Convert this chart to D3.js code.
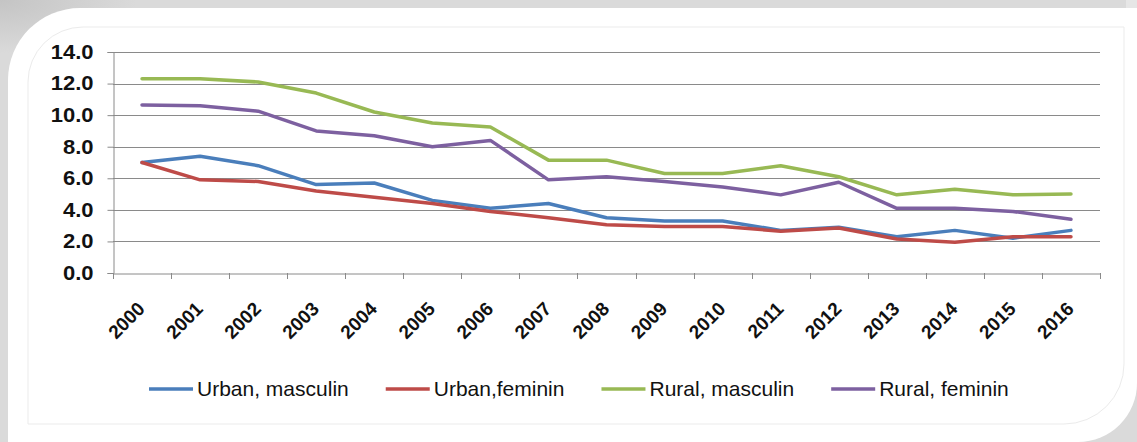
<!DOCTYPE html>
<html>
<head>
<meta charset="utf-8">
<script src="https://cdn.jsdelivr.net/npm/d3@7"></script>
<style>
  html, body { margin: 0; padding: 0; background: #d9d9d9; }
  svg { display: block; }
</style>
</head>
<body>
<script>
const years = ["2000","2001","2002","2003","2004","2005","2006","2007","2008","2009","2010","2011","2012","2013","2014","2015","2016"];
const urbanMasculin = [7.0,7.4,6.8,5.6,5.7,4.6,4.1,4.4,3.5,3.3,3.3,2.7,2.9,2.3,2.7,2.2,2.7];
const urbanFeminin  = [7.0,5.9,5.8,5.2,4.8,4.4,3.9,3.5,3.05,2.95,2.95,2.65,2.85,2.15,1.95,2.3,2.3];
const ruralMasculin = [12.3,12.3,12.1,11.4,10.2,9.5,9.25,7.15,7.15,6.3,6.3,6.8,6.1,4.95,5.3,4.95,5.0];
const ruralFeminin  = [10.65,10.6,10.25,9.0,8.7,8.0,8.4,5.9,6.1,5.8,5.45,4.95,5.75,4.1,4.1,3.9,3.4];
const seriesNames = ["Urban, masculin","Urban,feminin","Rural, masculin","Rural, feminin"];
const seriesColors = ["#4a7ebb","#be4b48","#98b954","#7d60a0"];
const yTicks = [0,2,4,6,8,10,12,14];

const W = 1137, H = 442;
const series = [urbanMasculin, urbanFeminin, ruralMasculin, ruralFeminin].map((v, i) => ({
  name: seriesNames[i], color: seriesColors[i], values: v
}));

const svg = d3.select("body").append("svg").attr("width", W).attr("height", H);

// background frame
const defs = svg.append("defs");
const rg = defs.append("radialGradient").attr("id", "bgGrad")
  .attr("cx", 0).attr("cy", 0).attr("r", 0.12).attr("gradientUnits", "objectBoundingBox");
rg.append("stop").attr("offset", "0%").attr("stop-color", "#c4c4c4");
rg.append("stop").attr("offset", "100%").attr("stop-color", "#dadada");
svg.append("rect").attr("width", W).attr("height", H).attr("fill", "url(#bgGrad)");
svg.append("rect").attr("x", 1126).attr("y", 0).attr("width", 11).attr("height", 8).attr("fill", "#e6e6e6");

// white panel
svg.append("path")
  .attr("d", "M8,80 A72,72 0 0 1 80,8 L1137,8 L1137,383 A59,59 0 0 1 1078,442 L8,442 Z")
  .attr("fill", "#ffffff");
// chart area border
svg.append("path")
  .attr("d", "M28,82 A55,55 0 0 1 83,27 L1124,27 L1124,364 A60,60 0 0 1 1064,424 L28,424 Z")
  .attr("fill", "none").attr("stroke", "#ebebeb").attr("stroke-width", 1);

// scales
const x = d3.scaleBand().domain(years).range([113, 1100]).paddingInner(0).paddingOuter(0);
const y = d3.scaleLinear().domain([0, 14]).range([273, 52]);
const cx = d => x(d) + x.bandwidth() / 2;

const font = "'Liberation Sans', Arial, sans-serif";

// gridlines
svg.append("g").selectAll("line").data(yTicks.filter(t => t > 0)).join("line")
  .attr("x1", 113).attr("x2", 1100)
  .attr("y1", d => Math.round(y(d)) + 0.5).attr("y2", d => Math.round(y(d)) + 0.5)
  .attr("stroke", "#8a8a8a").attr("stroke-width", 1);

// y axis
const yAxis = svg.append("g").attr("transform", "translate(113.5,0)")
  .call(d3.axisLeft(y).tickValues(yTicks).tickSize(6).tickPadding(14).tickFormat(d3.format(".1f")));
yAxis.select(".domain").attr("stroke", "#8a8a8a");
yAxis.selectAll(".tick line").attr("stroke", "#8a8a8a");
yAxis.selectAll(".tick text")
  .attr("font-family", font).attr("font-size", "20px").attr("font-weight", "bold").attr("fill", "#111")
  .each(function() {
    const len = this.getComputedTextLength();
    d3.select(this).attr("textLength", len * 1.1).attr("lengthAdjust", "spacingAndGlyphs");
  });

// x axis line and boundary ticks
const xAxis = svg.append("g").attr("transform", "translate(0,273.5)")
  .call(d3.axisBottom(x).tickSize(0).tickFormat(""));
xAxis.select(".domain").attr("stroke", "#8a8a8a");
const boundaries = years.map(d => x(d)).concat([x.range()[1]]);
svg.append("g").selectAll("line").data(boundaries).join("line")
  .attr("x1", d => Math.round(d) + 0.5).attr("x2", d => Math.round(d) + 0.5)
  .attr("y1", 273).attr("y2", 279).attr("stroke", "#8a8a8a");

// x labels rotated
svg.append("g").selectAll("text").data(years).join("text")
  .attr("transform", d => `translate(${cx(d) + 4},310) rotate(-45)`)
  .attr("text-anchor", "end")
  .attr("font-family", font).attr("font-size", "19px").attr("font-weight", "bold").attr("fill", "#111")
  .text(d => d);

// lines
const line = d3.line().x((d, i) => cx(years[i])).y(d => y(d));
svg.append("g").selectAll("path").data(series).join("path")
  .attr("d", s => line(s.values))
  .attr("fill", "none").attr("stroke", s => s.color)
  .attr("stroke-width", 3.5).attr("stroke-linejoin", "round").attr("stroke-linecap", "round");

// legend
const legend = svg.append("g").attr("transform", "translate(149,389)");
let lx = 0;
series.forEach(s => {
  const g = legend.append("g").attr("transform", `translate(${lx},0)`);
  g.append("line").attr("x1", 0).attr("x2", 44).attr("y1", 0).attr("y2", 0)
    .attr("stroke", s.color).attr("stroke-width", 3.5);
  const t = g.append("text").attr("x", 48).attr("y", 7)
    .attr("font-family", font).attr("font-size", "21px").attr("fill", "#111")
    .text(s.name);
  lx += 48 + t.node().getComputedTextLength() + 37;
});
</script>
</body>
</html>
